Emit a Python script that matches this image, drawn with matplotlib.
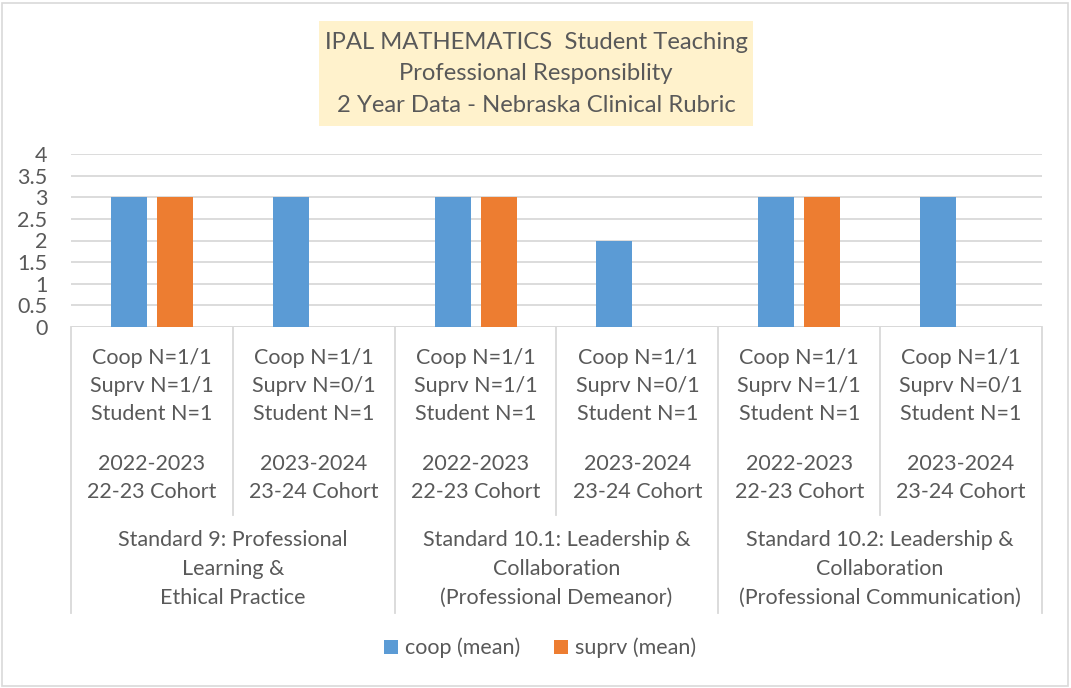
import numpy as np
import matplotlib.pyplot as plt
from matplotlib.patches import Rectangle

plt.rcParams['font.family'] = ['Lato', 'DejaVu Sans']

# data
standards = ["Standard 9: Professional\nLearning &\nEthical Practice",
             "Standard 10.1: Leadership &\nCollaboration\n(Professional Demeanor)",
             "Standard 10.2: Leadership &\nCollaboration\n(Professional Communication)"]
counts = ["Coop N=1/1\nSuprv N=1/1\nStudent N=1",
          "Coop N=1/1\nSuprv N=0/1\nStudent N=1"] * 3
years = ["2022-2023\n22-23 Cohort", "2023-2024\n23-24 Cohort"] * 3
coop = [3, 3, 3, 2, 3, 3]
suprv = [3, np.nan, 3, np.nan, 3, np.nan]
yticks = [0, 0.5, 1, 1.5, 2, 2.5, 3, 3.5, 4]

W, H = 1071, 688
fig = plt.figure(figsize=(W / 100, H / 100), dpi=100)
txt = '#595959'
grid = '#D9D9D9'
fs = 15.5

# outer chart border
fig.patches.append(Rectangle((2 / W, 2 / H), (W - 5) / W, (H - 5) / H, transform=fig.transFigure,
                             fill=False, edgecolor=grid, linewidth=1.2))

x0, x1, ytop, ybot = 71, 1042, 154, 327
ax = fig.add_axes([x0 / W, 1 - ybot / H, (x1 - x0) / W, (ybot - ytop) / H])
x = np.arange(len(coop))
bw = 0.222
off = 0.142
ax.bar(x - off, coop, bw, color='#5B9BD5', label='coop (mean)', zorder=3)
ax.bar(x + off, suprv, bw, color='#ED7D31', label='suprv (mean)', zorder=3)
ax.set_xlim(-0.5, len(coop) - 0.5)
ax.set_ylim(0, 4)
ax.set_yticks(yticks)
ax.set_yticklabels([f"{v:g}" for v in yticks], fontsize=fs, color=txt)
ax.tick_params(axis='y', length=0, pad=17)
ax.set_xticks([])
ax.grid(axis='y', color=grid, linewidth=1.3, zorder=0)
for s in ax.spines.values():
    s.set_visible(False)
ax.axhline(0, color=grid, linewidth=1.3, zorder=1)

# category axis: separators and labels
tr = ax.get_xaxis_transform()
def ypos(py):
    return (H - py - (H - ybot)) / (ybot - ytop)

for b in np.arange(-0.5, len(coop), 1.0):
    outer = (b + 0.5) % 2 == 0
    ax.plot([b, b], [0, ypos(613 if outer else 515)], color=grid, linewidth=1.3,
            transform=tr, clip_on=False)
for i in range(len(coop)):
    ax.text(x[i], ypos(386), counts[i], transform=tr, ha='center', va='center',
            fontsize=fs, color=txt, linespacing=1.47)
    ax.text(x[i], ypos(478), years[i], transform=tr, ha='center', va='center',
            fontsize=fs, color=txt, linespacing=1.47)
for g, lab in enumerate(standards):
    ax.text(2 * g + 0.5, ypos(569), lab, transform=tr, ha='center', va='center',
            fontsize=fs, color=txt, linespacing=1.55)

# title
fig.patches.append(Rectangle((319 / W, 1 - 126 / H), (753 - 319) / W, (126 - 21) / H,
                             transform=fig.transFigure, facecolor='#FFF2CC', edgecolor='none'))
fig.text(536 / W, 1 - 74 / H, "IPAL MATHEMATICS  Student Teaching\nProfessional Responsiblity\n2 Year Data - Nebraska Clinical Rubric",
         ha='center', va='center', fontsize=17.2, color=txt, linespacing=1.62)

fig.legend(loc='center', bbox_to_anchor=(540 / W, 1 - 648 / H), ncol=2, frameon=False,
           fontsize=fs, labelcolor=txt, handlelength=0.65, handleheight=0.65,
           handletextpad=0.3, columnspacing=1.6)

fig.savefig('out.png', dpi=100)
